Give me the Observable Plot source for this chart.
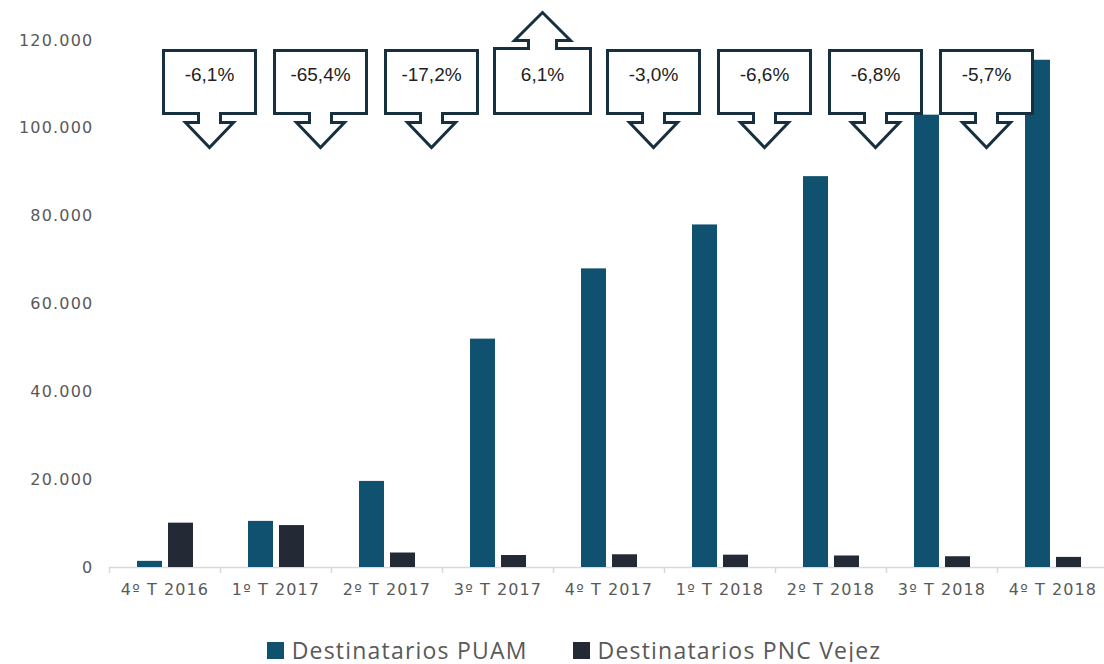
<!DOCTYPE html>
<html><head><meta charset="utf-8">
<script src="https://cdn.jsdelivr.net/npm/d3@7"></script>
<script src="https://cdn.jsdelivr.net/npm/@observablehq/plot@0.6"></script>
<style>
body{margin:0;background:#fff;}
#chart svg{display:block;}
#chart svg g[aria-label="x-axis tick label"] text{letter-spacing:1.1px;}
#chart svg g[aria-label="y-axis tick label"] text{letter-spacing:1.2px;}
#legend{display:flex;justify-content:center;align-items:center;padding-left:44px;margin-top:28px;height:24px;
  font-family:"Open Sans",sans-serif;font-size:23px;letter-spacing:1.2px;color:#595959;line-height:24px;}
#legend .item{display:flex;align-items:center;}
#legend .sw{width:17px;height:17px;margin-right:8px;}
#legend .item + .item{margin-left:45px;}
</style></head><body>
<div id="chart"></div>
<div id="legend"></div>
<script>
const quarters = ["4º T 2016","1º T 2017","2º T 2017","3º T 2017","4º T 2017","1º T 2018","2º T 2018","3º T 2018","4º T 2018"];
const puam = [1400, 10500, 19600, 52000, 68000, 78000, 89000, 103000, 115500];
const pncVejez = [10100, 9550, 3300, 2730, 2900, 2810, 2620, 2450, 2300];
const changePnc = [-6.1, -65.4, -17.2, 6.1, -3.0, -6.6, -6.8, -5.7];
const yTicks = [0, 20000, 40000, 60000, 80000, 100000, 120000];
const seriesNames = ["Destinatarios PUAM", "Destinatarios PNC Vejez"];
const seriesColors = ["#10516f", "#232a35"];

const rows = quarters.map((q, i) => ({quarter: q, puam: puam[i], pnc: pncVejez[i]}));
const callouts = changePnc.map((c, i) => ({from: quarters[i], to: quarters[i + 1], change: c}));

const W = 1104, H = 610, left = 109, right = 1108;
const bw = (right - left) / quarters.length;

const fmtY = d => d === 0 ? "0" : d3.format(",")(d).replace(/,/g, ".");
const fmtPct = c => c.toFixed(1).replace(".", ",") + "%";

const downCallout = {draw(ctx) {
  const hw = 46, hh = 31.5;
  ctx.moveTo(-hw, -hh); ctx.lineTo(hw, -hh); ctx.lineTo(hw, hh);
  ctx.lineTo(11, hh); ctx.lineTo(11, hh + 9); ctx.lineTo(24, hh + 9);
  ctx.lineTo(0, hh + 34); ctx.lineTo(-24, hh + 9); ctx.lineTo(-11, hh + 9);
  ctx.lineTo(-11, hh); ctx.lineTo(-hw, hh); ctx.closePath();
}};
const upCallout = {draw(ctx) {
  const hw = 48, hh = 32.5;
  ctx.moveTo(-hw, hh); ctx.lineTo(-hw, -hh); ctx.lineTo(-14, -hh);
  ctx.lineTo(-14, -hh - 8); ctx.lineTo(-28, -hh - 8); ctx.lineTo(0, -hh - 36);
  ctx.lineTo(28, -hh - 8); ctx.lineTo(14, -hh - 8); ctx.lineTo(14, -hh);
  ctx.lineTo(hw, -hh); ctx.lineTo(hw, hh); ctx.closePath();
}};

const shift = -bw / 2 - 11;
const calloutStroke = "#17303f";

const chart = Plot.plot({
  width: W, height: H,
  marginLeft: left, marginRight: 0, marginTop: 40, marginBottom: H - 567,
  style: {fontFamily: "DejaVu Sans", fontSize: "16px", color: "#595959", background: "white"},
  x: {domain: quarters, range: [left, right], padding: 0, axis: null},
  y: {domain: [0, 120000], axis: null},
  marks: [
    Plot.ruleY([0], {stroke: "#d9d9d9", strokeWidth: 1.5}),
    Plot.barY(rows, {x: "quarter", y: "puam", fill: seriesColors[0], insetLeft: 28, insetRight: 58}),
    Plot.barY(rows, {x: "quarter", y: "pnc", fill: seriesColors[1], insetLeft: 59, insetRight: 27}),
    Plot.axisX({tickSize: 6, dx: -bw / 2, text: null, stroke: "#d9d9d9", strokeWidth: 1.5}),
    Plot.axisX({tickSize: 0, tickPadding: 16, fill: "#595959"}),
    Plot.axisY({ticks: yTicks, tickSize: 0, tickPadding: 16, tickFormat: fmtY, fill: "#595959"}),
    Plot.dot(callouts, {filter: d => d.change < 0, x: "to", dx: shift, frameAnchor: "top", dy: 41.5,
      symbol: downCallout, fill: "white", stroke: calloutStroke, strokeWidth: 3}),
    Plot.dot(callouts, {filter: d => d.change >= 0, x: "to", dx: shift, frameAnchor: "top", dy: 40.5,
      symbol: upCallout, fill: "white", stroke: calloutStroke, strokeWidth: 3}),
    Plot.text(callouts, {x: "to", dx: shift, frameAnchor: "top", dy: 34, lineAnchor: "middle",
      text: d => fmtPct(d.change), fontFamily: "Liberation Sans", fontSize: 19, fill: "#222"})
  ]
});
document.getElementById("chart").appendChild(chart);

const legend = document.getElementById("legend");
seriesNames.forEach((name, i) => {
  const item = document.createElement("div");
  item.className = "item";
  const sw = document.createElement("span");
  sw.className = "sw";
  sw.style.background = seriesColors[i];
  const label = document.createElement("span");
  label.textContent = name;
  item.appendChild(sw); item.appendChild(label);
  legend.appendChild(item);
});
</script>
</body></html>
